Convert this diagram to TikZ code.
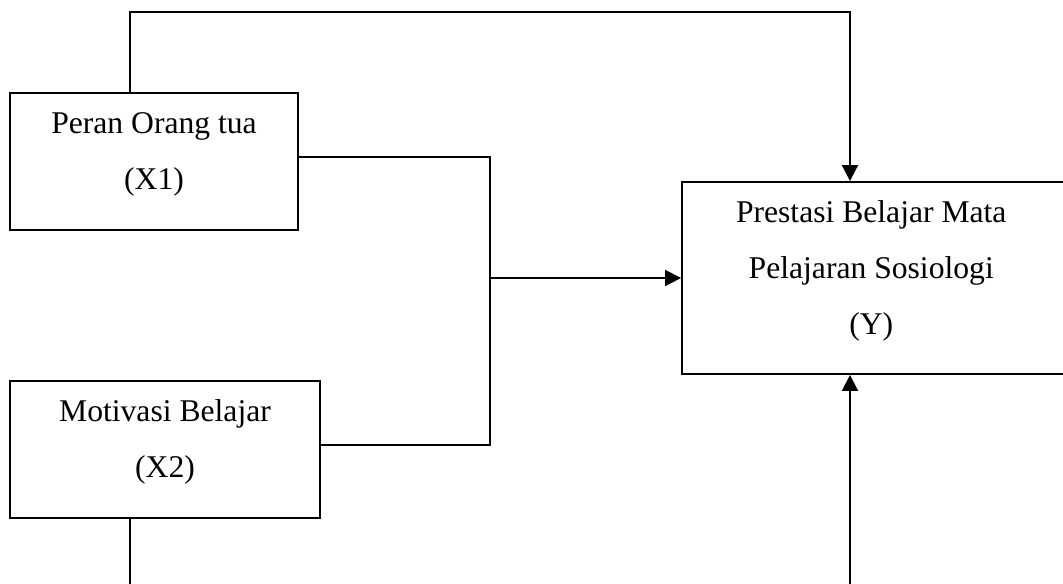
\documentclass[tikz,border=0pt]{standalone}
\usepackage{fontspec}
\setmainfont{Liberation Serif}
\usetikzlibrary{arrows.meta}
\tikzset{
  kotak/.style={draw,line width=1.1pt,inner sep=0pt},
  teks/.style={align=center,inner sep=0pt,font=\fontsize{18}{31.8}\selectfont},
  garis/.style={line width=1.1pt},
  panah/.style={line width=1.1pt,-{Triangle[length=0.32cm,width=0.32cm]}}
}
\begin{document}
\begin{tikzpicture}[x=0.02cm,y=-0.02cm]
  \useasboundingbox (0,0) rectangle (1063,583);
  % kotak variabel
  \node[kotak,minimum width=5.76cm,minimum height=2.74cm] (peran) at (154,161.5) {};
  \node[kotak,minimum width=6.2cm,minimum height=2.74cm] (motivasi) at (165,449.5) {};
  \node[kotak,minimum width=7.64cm,minimum height=3.84cm] (prestasi) at (873,278) {};
  \node[teks] (peranteks) at ([yshift=4.2pt]peran.center) {Peran Orang tua\\(X1)};
  \node[teks] (motivasiteks) at ([yshift=4.2pt]motivasi.center) {Motivasi Belajar\\(X2)};
  \node[teks] (prestasiteks) at ([yshift=4.2pt,xshift=-1pt]prestasi.center) {Prestasi Belajar Mata\\Pelajaran Sosiologi\\(Y)};
  % titik belok
  \coordinate (atas1) at (130,12);
  \coordinate (atas2) at (850,12);
  \coordinate (sambung1) at (490,157);
  \coordinate (sambung2) at (490,445);
  \coordinate (tengah) at (490,278);
  \coordinate (bawah1) at (130,620);
  \coordinate (bawah2) at (850,620);
  % X1 -> Y
  \draw[panah] (atas1 |- peran.north) -- (atas1) -- (atas2) -- (atas2 |- prestasi.north);
  % X1 dan X2 bersama -> Y
  \draw[garis] (sambung1 -| peran.east) -- (sambung1) -- (sambung2) -- (sambung2 -| motivasi.east);
  \draw[panah] (tengah) -- (prestasi.west);
  % X2 -> Y
  \draw[panah] (bawah1 |- motivasi.south) -- (bawah1) -- (bawah2) -- (bawah2 |- prestasi.south);
\end{tikzpicture}
\end{document}
